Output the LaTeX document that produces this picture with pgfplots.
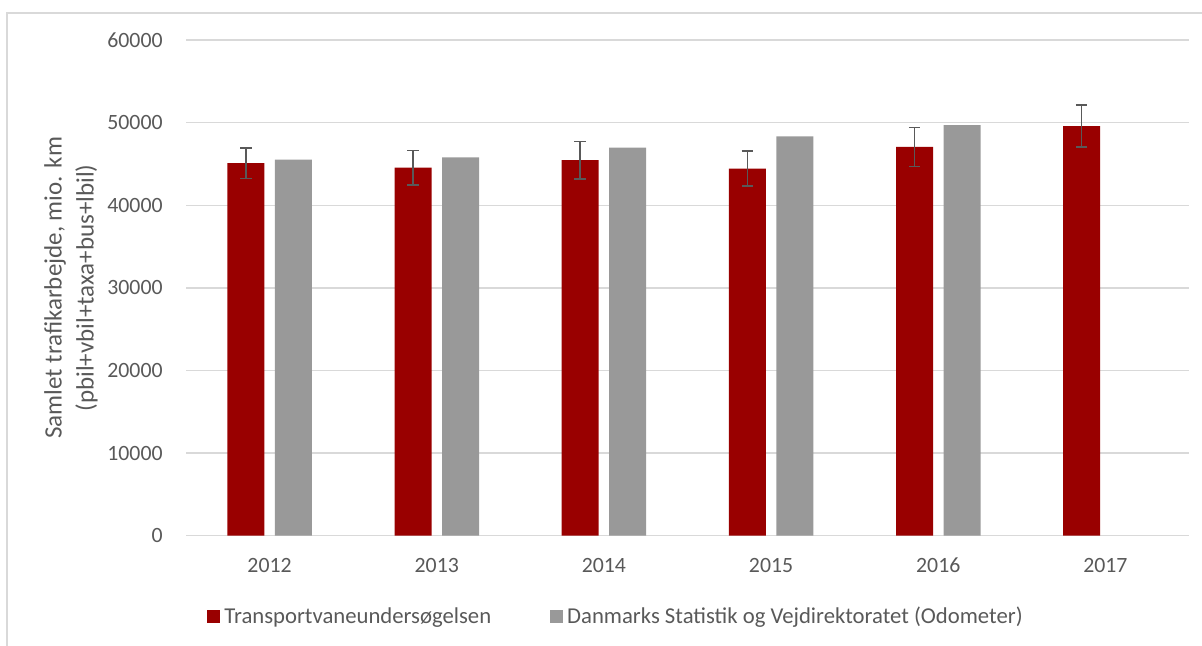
\documentclass[border=0pt]{standalone}
\usepackage{fontspec}
\setmainfont{Carlito}
\usepackage{pgfplots}
\usepackage{pgfplotstable}
\pgfplotsset{compat=1.18}
\definecolor{tvured}{HTML}{990000}
\definecolor{dsgray}{HTML}{999999}
\definecolor{txtgray}{HTML}{595959}
\definecolor{gridgray}{HTML}{D9D9D9}
\definecolor{errgray}{HTML}{595959}

\pgfplotstableread{
x y e
0 45100 1840
1 44560 2100
2 45465 2285
3 44455 2115
4 47060 2340
5 49600 2540
}\tvu

\pgfplotstableread{
x y
0 45520
1 45810
2 46970
3 48350
4 49720
}\dst

\begin{document}
\begin{tikzpicture}
\useasboundingbox (-93pt,-54.65pt) rectangle (508pt,267.85pt);
\draw[gridgray, line width=0.6pt] (-89.5pt,-70pt) -- (-89.5pt,261.35pt) -- (530pt,261.35pt);
\begin{axis}[
  at={(0pt,0pt)}, anchor=south west,
  scale only axis, width=501.5pt, height=247.8pt,
  ymin=0, ymax=60000, ytick={0,10000,20000,30000,40000,50000,60000},
  xmin=-0.5, xmax=5.5, xtick={0,1,2,3,4,5},
  xticklabels={2012,2013,2014,2015,2016,2017},
  axis line style={draw=none},
  ymajorgrids, grid style={gridgray, line width=0.7pt},
  major tick length=0pt,
  scaled y ticks=false,
  /pgf/number format/assume math mode=true,
  /pgf/number format/1000 sep={},
  tick label style={font=\fontsize{10.9}{12}\selectfont, text=txtgray},
  y tick label style={anchor=east, inner sep=0pt, xshift=-11.5pt},
  x tick label style={anchor=base, inner sep=0pt, yshift=-18.6pt},
  every axis y label/.style={at={([xshift=-57.5pt]axis description cs:0,0.5)}, anchor=center, rotate=90, align=center, font=\fontsize{12.5}{16}\selectfont, text=txtgray},
  ylabel={Samlet trafikarbejde, mio. km\\(pbil+vbil+taxa+bus+lbil)},
  ybar=5.25pt, bar width=18.5pt,
  legend columns=2,
  legend style={at={(axis description cs:0,0)}, anchor=west, xshift=10.5pt, yshift=-40.5pt,
    draw=none, fill=none, inner sep=0pt,
    font=\fontsize{11.35}{13}\selectfont, text=txtgray,
    nodes={inner sep=0pt, anchor=west},
    /tikz/every odd column/.append style={column sep=2pt},
    /tikz/every even column/.append style={column sep=29.5pt}},
]
\addplot[fill=tvured, draw=none,
  legend image code/.code={\fill[tvured] (0pt,-3.25pt) rectangle (6.5pt,3.25pt);},
  error bars/.cd, y dir=both, y explicit,
  error bar style={errgray, line width=0.7pt},
  error mark options={rotate=90, errgray, mark size=2.85pt, line width=0.7pt}]
  table[x=x, y=y, y error=e] {\tvu};
\addlegendentry{Transportvaneundersøgelsen}
\addplot[fill=dsgray, draw=none,
  legend image code/.code={\fill[dsgray] (0pt,-3.25pt) rectangle (6.5pt,3.25pt);}]
  table[x=x, y=y] {\dst};
\addlegendentry{Danmarks Statistik og Vejdirektoratet (Odometer)}
\end{axis}
\end{tikzpicture}
\end{document}
